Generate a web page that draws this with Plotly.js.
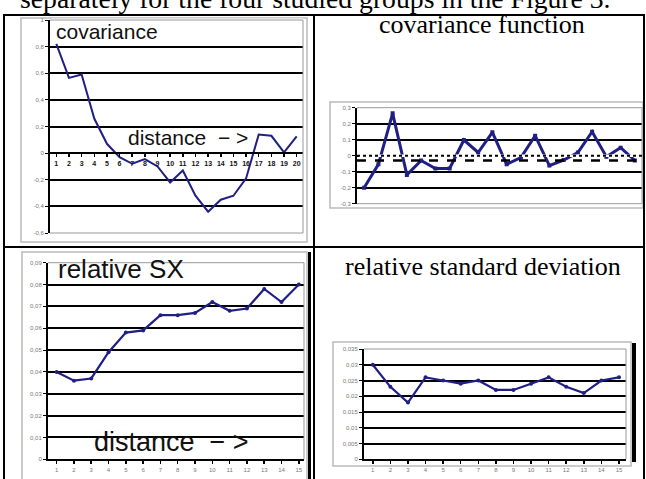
<!DOCTYPE html>
<html><head><meta charset="utf-8">
<script src="https://cdn.plot.ly/plotly-3.0.1.min.js"></script>
<style>html,body{margin:0;padding:0;background:#fff;overflow:hidden}</style>
</head><body><div id="chart" style="width:646px;height:479px"></div>
<script>
// ---- data ----
const covDistance = [1,2,3,4,5,6,7,8,9,10,11,12,13,14,15,16,17,18,19,20];
const covValues = [0.82,0.565,0.59,0.26,0.07,-0.03,-0.08,-0.045,-0.1,-0.22,-0.13,-0.32,-0.44,-0.35,-0.32,-0.19,0.14,0.13,0.005,0.125];
const covTickVals = [1,0.8,0.6,0.4,0.2,0,-0.2,-0.4,-0.6];
const covTickText = ['1','0,8','0,6','0,4','0,2','0','-0,2','-0,4','-0,6'];

const covFuncX = [1,2,3,4,5,6,7,8,9,10,11,12,13,14,15,16,17,18,19,20];
const covFuncValues = [-0.2,-0.054,0.265,-0.12,-0.03,-0.08,-0.08,0.098,0.02,0.146,-0.054,-0.012,0.125,-0.062,-0.027,0.02,0.15,-0.006,0.05,-0.03];
const covFuncMean = -0.03;
const covFuncTickVals = [0.3,0.2,0.1,0,-0.1,-0.2,-0.3];
const covFuncTickText = ['0,3','0,2','0,1','0','-0,1','-0,2','-0,3'];

const relSxX = [1,2,3,4,5,6,7,8,9,10,11,12,13,14,15];
const relSxValues = [0.040,0.036,0.037,0.049,0.058,0.059,0.066,0.066,0.067,0.072,0.068,0.069,0.078,0.072,0.080];
const relSxTickVals = [0.09,0.08,0.07,0.06,0.05,0.04,0.03,0.02,0.01,0];
const relSxTickText = ['0,09','0,08','0,07','0,06','0,05','0,04','0,03','0,02','0,01','0'];

const relSdX = [1,2,3,4,5,6,7,8,9,10,11,12,13,14,15];
const relSdValues = [0.030,0.023,0.018,0.026,0.025,0.024,0.025,0.022,0.022,0.024,0.026,0.023,0.021,0.025,0.026];
const relSdTickVals = [0.035,0.03,0.025,0.02,0.015,0.01,0.005,0];
const relSdTickText = ['0,035','0,03','0,025','0,02','0,015','0,01','0,005','0'];

// ---- geometry helpers ----
const W = 646, H = 479;
const px = v => v / W;
const py = v => 1 - v / H;
const NAVY = '#1f1f84';
const GRAY = '#777';
const SANS = 'Liberation Sans, Arial, sans-serif';
const SERIF = 'Liberation Serif, Times New Roman, serif';

const yA = {dom:[py(233), py(20)], range:[-0.6,1]};
const zeroPosA = yA.dom[0] + (0 - yA.range[0])/(yA.range[1]-yA.range[0])*(yA.dom[1]-yA.dom[0]);

const yTick = {size:6, color:GRAY, family:SANS};
function labelY(dom, range, tv, tt, anchor){
  return {domain:dom, range:range, anchor:anchor, tickmode:'array', tickvals:tv, ticktext:tt,
    ticks:'outside', ticklen:3, tickwidth:1, tickcolor:'#000', showline:true, linecolor:'#000', linewidth:2,
    showgrid:true, gridcolor:'#000', gridwidth:2, zeroline:false, tickfont:yTick, fixedrange:true};
}

const traces = [
  {x:covDistance, y:covValues, xaxis:'x', yaxis:'y', mode:'lines', line:{color:NAVY, width:2}, hoverinfo:'skip'},
  {x:covFuncX, y:covFuncValues, xaxis:'x2', yaxis:'y2', mode:'lines+markers', line:{color:NAVY, width:3}, marker:{symbol:'square', size:4, color:NAVY}, hoverinfo:'skip'},
  {x:relSxX, y:relSxValues, xaxis:'x3', yaxis:'y3', mode:'lines+markers', line:{color:NAVY, width:2.2}, marker:{size:4, color:NAVY}, hoverinfo:'skip'},
  {x:relSdX, y:relSdValues, xaxis:'x4', yaxis:'y4', mode:'lines+markers', line:{color:NAVY, width:2.2}, marker:{size:4, color:NAVY}, hoverinfo:'skip'}
];

// cover the grid line at a plot edge with the thin grey plot-area border
function edge(xr, yr, yv){
  return [
    {type:'line', xref:xr+' domain', yref:yr+' domain', x0:0.006, x1:1, y0:yv, y1:yv, line:{color:'#fff', width:3}, layer:'above'},
    {type:'line', xref:xr+' domain', yref:yr+' domain', x0:0, x1:1, y0:yv, y1:yv, line:{color:'#999', width:1}, layer:'above'}
  ];
}
function rightEdge(xr, yr){
  return {type:'line', xref:xr+' domain', yref:yr+' domain', x0:1, x1:1, y0:0, y1:1, line:{color:'#999', width:1}, layer:'above'};
}
function box(x0,x1,y0,y1){
  return {type:'rect', xref:'paper', yref:'paper', x0:px(x0), x1:px(x1), y0:py(y1), y1:py(y0), line:{color:'#bbb', width:1.5}, layer:'below'};
}
function bar(x0,x1,y0,y1){
  return {type:'rect', xref:'paper', yref:'paper', x0:px(x0), x1:px(x1), y0:py(y1), y1:py(y0), line:{width:0}, fillcolor:'#000', layer:'above'};
}
function hline(x0,x1,y){
  return {type:'line', xref:'paper', yref:'paper', x0:px(x0), x1:px(x1), y0:py(y), y1:py(y), line:{color:'#000', width:2}, layer:'above'};
}
function vline(x,y0,y1){
  return {type:'line', xref:'paper', yref:'paper', x0:px(x), x1:px(x), y0:py(y0), y1:py(y1), line:{color:'#000', width:2}, layer:'above'};
}

const layout = {
  width:W, height:H, margin:{l:0,r:0,t:0,b:0}, showlegend:false,
  paper_bgcolor:'#fff', plot_bgcolor:'#fff',
  font:{family:SANS},
  // top-left
  xaxis:{domain:[px(50),px(303)], range:[0.5,20.5], anchor:'free', position:zeroPosA, tickmode:'array', tickvals:covDistance,
    ticks:'outside', ticklen:3, tickwidth:1.5, tickcolor:'#000', showline:true, linecolor:'#000', linewidth:2,
    showgrid:false, zeroline:false, tickfont:{size:7, color:'#111', family:SANS, weight:'bold'}, fixedrange:true},
  yaxis:labelY(yA.dom, yA.range, covTickVals, covTickText, 'x'),
  // top-right
  xaxis2:{domain:[px(357),px(642)], range:[0.5,20.5], anchor:'y2', showticklabels:false, ticks:'', showline:false, showgrid:false, zeroline:false, fixedrange:true},
  yaxis2:labelY([py(203.7),py(107.7)], [-0.3,0.3], covFuncTickVals, covFuncTickText, 'x2'),
  // bottom-left
  xaxis3:{domain:[px(48),px(304)], range:[0.5,15.3], anchor:'y3', tickmode:'array', tickvals:relSxX,
    ticks:'outside', ticklen:3, tickwidth:1.5, tickcolor:'#000', showline:true, linecolor:'#000', linewidth:2,
    showgrid:false, zeroline:false, tickfont:{size:6, color:GRAY, family:SANS}, fixedrange:true},
  yaxis3:labelY([py(459.3),py(262.7)], [0,0.09], relSxTickVals, relSxTickText, 'x3'),
  // bottom-right
  xaxis4:{domain:[px(364),px(626)], range:[0.5,15.4], anchor:'y4', tickmode:'array', tickvals:relSdX,
    ticks:'outside', ticklen:3, tickwidth:1.5, tickcolor:'#000', showline:true, linecolor:'#000', linewidth:2,
    showgrid:false, zeroline:false, tickfont:{size:6, color:GRAY, family:SANS}, fixedrange:true},
  yaxis4:labelY([py(459.3),py(349)], [0,0.035], relSdTickVals, relSdTickText, 'x4'),
  shapes:[
    box(21,307,18,242), box(330,643,102,208), box(22,307,252,490), box(333,631,342,466),
    ...edge('x','y',1), ...edge('x','y',0), rightEdge('x','y'),
    ...edge('x2','y2',1), ...edge('x2','y2',0), rightEdge('x2','y2'),
    ...edge('x3','y3',1), rightEdge('x3','y3'),
    ...edge('x4','y4',1), rightEdge('x4','y4'),
    {type:'line', xref:'x2 domain', yref:'y2', x0:0.006, x1:1, y0:0, y1:0, line:{color:'#fff', width:2.5}, layer:'above'},
    {type:'line', xref:'x2 domain', yref:'y2', x0:0, x1:1, y0:0, y1:0, line:{color:'#000', width:2, dash:'dot'}, layer:'above'},
    {type:'line', xref:'x2 domain', yref:'y2', x0:0, x1:1, y0:covFuncMean, y1:covFuncMean, line:{color:'#000', width:2.5, dash:'dash'}, layer:'above'},
    bar(308,311,252,479), bar(632,636,343,462),
    hline(3,645,15), hline(3,645,247),
    vline(4,15,479), vline(314,15,479), vline(644,15,479)
  ],
  annotations:[
    {text:'separately for the four studied groups in the Figure 3.', xref:'paper', yref:'paper', x:px(18), y:py(-2), xanchor:'left', yanchor:'middle', showarrow:false, font:{family:SERIF, size:27.7, color:'#000'}},
    {text:'covariance function', xref:'paper', yref:'paper', x:px(482), y:py(24), xanchor:'center', yanchor:'middle', showarrow:false, font:{family:SERIF, size:26, color:'#000'}},
    {text:'relative standard deviation', xref:'paper', yref:'paper', x:px(483), y:py(266), xanchor:'center', yanchor:'middle', showarrow:false, font:{family:SERIF, size:26, color:'#000'}},
    {text:'covariance', xref:'paper', yref:'paper', x:px(54), y:py(31), xanchor:'left', yanchor:'middle', showarrow:false, font:{family:SANS, size:21, color:'#111'}},
    {text:'distance  − >', xref:'paper', yref:'paper', x:px(126), y:py(138), xanchor:'left', yanchor:'middle', showarrow:false, font:{family:SANS, size:21, color:'#111'}},
    {text:'relative SX', xref:'paper', yref:'paper', x:px(56), y:py(269), xanchor:'left', yanchor:'middle', showarrow:false, font:{family:SANS, size:26, color:'#111'}},
    {text:'distance  − >', xref:'paper', yref:'paper', x:px(92), y:py(442), xanchor:'left', yanchor:'middle', showarrow:false, font:{family:SANS, size:27, color:'#111'}}
  ]
};

Plotly.newPlot('chart', traces, layout, {staticPlot:true, displayModeBar:false});
</script></body></html>
